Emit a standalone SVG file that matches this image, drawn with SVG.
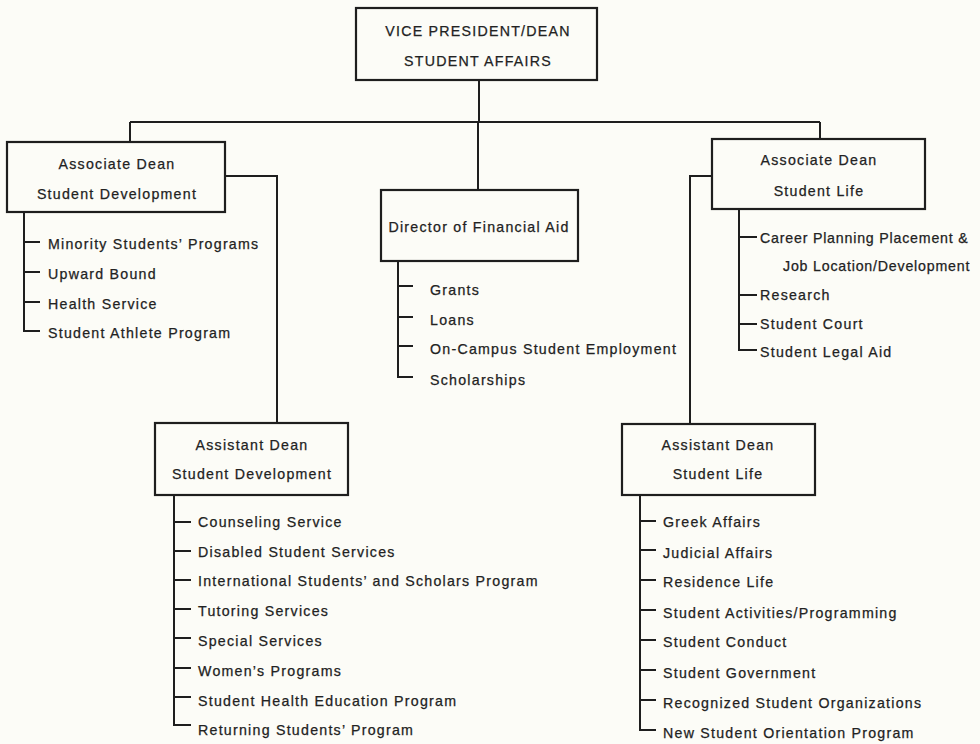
<svg xmlns="http://www.w3.org/2000/svg" width="980" height="744" viewBox="0 0 980 744">
<style>
.bx{fill:none;stroke:#1e1e1e;stroke-width:2.2}
.ln{fill:none;stroke:#1e1e1e;stroke-width:2}
text{font-family:"Liberation Sans",Arial,Helvetica,sans-serif;font-size:14.2px;fill:#222;stroke:#222;stroke-width:0.25;letter-spacing:1.25px}
.c{text-anchor:middle}
.t{letter-spacing:0.8px}
</style>
<rect x="0" y="0" width="980" height="744" fill="#fcfcf7"/>
<g id="connectors">
<path class="ln" d="M479 80V122M130 122H820M130 122V142M478 122V190M820 122V139"/>
<path class="ln" d="M225 176H277V423M712 176H690V424"/>
<path class="ln" d="M24 212V331H40M24 242H40M24 272H40M24 302H40"/>
<path class="ln" d="M398 261V377H413M398 286H413M398 317H413M398 346H413"/>
<path class="ln" d="M739 209V350H757M739 237H757M739 295H757M739 324H757"/>
<path class="ln" d="M174 495V725H191M174 522H191M174 551H191M174 580H191M174 609H191M174 638H191M174 668H191M174 697H191"/>
<path class="ln" d="M640 495V730H656M640 521H656M640 550H656M640 580H656M640 610H656M640 640H656M640 670H656M640 700H656"/>
</g>
<g id="vp">
<rect class="bx" x="356" y="8" width="241" height="72"/>
<text class="c" x="478" y="36">VICE PRESIDENT/DEAN</text>
<text class="c" x="478" y="66">STUDENT AFFAIRS</text>
</g>
<g id="assoc-dev">
<rect class="bx" x="7" y="142" width="218" height="70"/>
<text class="c" x="117" y="169">Associate Dean</text>
<text class="c" x="117" y="199">Student Development</text>
<text x="48" y="249">Minority Students’ Programs</text>
<text x="48" y="279">Upward Bound</text>
<text x="48" y="309">Health Service</text>
<text x="48" y="338">Student Athlete Program</text>
</g>
<g id="fin-aid">
<rect class="bx" x="381" y="190" width="197" height="71"/>
<text class="c" x="479" y="232">Director of Financial Aid</text>
<text x="430" y="295">Grants</text>
<text x="430" y="325">Loans</text>
<text x="430" y="354">On-Campus Student Employment</text>
<text x="430" y="385">Scholarships</text>
</g>
<g id="assoc-life">
<rect class="bx" x="712" y="139" width="213" height="70"/>
<text class="c" x="819" y="165">Associate Dean</text>
<text class="c" x="819" y="196">Student Life</text>
<text class="t" x="760" y="243">Career Planning Placement &amp;</text>
<text class="t" x="783" y="271">Job Location/Development</text>
<text x="760" y="300">Research</text>
<text x="760" y="329">Student Court</text>
<text x="760" y="357">Student Legal Aid</text>
</g>
<g id="asst-dev">
<rect class="bx" x="155" y="423" width="193" height="72"/>
<text class="c" x="252" y="450">Assistant Dean</text>
<text class="c" x="252" y="479">Student Development</text>
<text x="198" y="527">Counseling Service</text>
<text x="198" y="557">Disabled Student Services</text>
<text x="198" y="586">International Students’ and Scholars Program</text>
<text x="198" y="616">Tutoring Services</text>
<text x="198" y="646">Special Services</text>
<text x="198" y="676">Women’s Programs</text>
<text x="198" y="706">Student Health Education Program</text>
<text x="198" y="735">Returning Students’ Program</text>
</g>
<g id="asst-life">
<rect class="bx" x="622" y="424" width="193" height="71"/>
<text class="c" x="718" y="450">Assistant Dean</text>
<text class="c" x="718" y="479">Student Life</text>
<text x="663" y="527">Greek Affairs</text>
<text x="663" y="558">Judicial Affairs</text>
<text x="663" y="587">Residence Life</text>
<text x="663" y="618">Student Activities/Programming</text>
<text x="663" y="647">Student Conduct</text>
<text x="663" y="678">Student Government</text>
<text x="663" y="708">Recognized Student Organizations</text>
<text x="663" y="738">New Student Orientation Program</text>
</g>
</svg>
